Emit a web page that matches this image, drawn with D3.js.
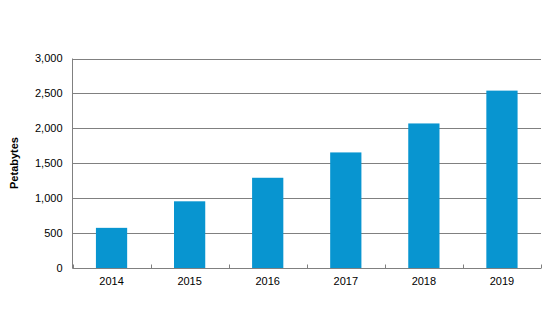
<!DOCTYPE html>
<html>
<head>
<meta charset="utf-8">
<script src="https://cdn.jsdelivr.net/npm/d3@7"></script>
<style>
  html, body { margin: 0; padding: 0; background: #fff; }
  svg { display: block; }
  text { font-family: "Liberation Sans", Arial, sans-serif; fill: #000; }
</style>
</head>
<body>
<svg id="chart" width="550" height="324"></svg>
<script>
const categories = ["2014", "2015", "2016", "2017", "2018", "2019"];
const values = [575, 955, 1292, 1655, 2070, 2540];
const yTicks = [0, 500, 1000, 1500, 2000, 2500, 3000];
const yLabel = "Petabytes";

const svg = d3.select("#chart");
const mLeft = 72.5, mRight = 541, mTop = 58.5, mBottom = 268;

const x = d3.scaleBand().domain(categories).range([mLeft, mRight]).paddingInner(0.6).paddingOuter(0.3);
const xb = d3.scaleBand().domain(categories).range([mLeft, mRight]);
const y = d3.scaleLinear().domain([0, 3000]).range([mBottom, mTop]);

// gridlines
svg.append("g").selectAll("line").data(yTicks.filter(d => d > 0)).join("line")
  .attr("x1", mLeft).attr("x2", mRight)
  .attr("y1", d => Math.round(y(d)) + 0.5).attr("y2", d => Math.round(y(d)) + 0.5)
  .attr("stroke", "#808080").attr("stroke-width", 1);

// bars
svg.append("g").selectAll("rect").data(categories).join("rect")
  .attr("x", (d) => x(d))
  .attr("width", x.bandwidth())
  .attr("y", (d, i) => y(values[i]))
  .attr("height", (d, i) => y(0) - y(values[i]))
  .attr("fill", "#0895d0");

// axes lines
svg.append("line").attr("x1", mLeft).attr("x2", mLeft).attr("y1", y(3000)).attr("y2", mBottom + 0.5)
  .attr("stroke", "#808080");
svg.append("line").attr("x1", mLeft).attr("x2", mRight).attr("y1", mBottom + 0.5).attr("y2", mBottom + 0.5)
  .attr("stroke", "#808080");

// x tick marks between categories
const bounds = categories.map(c => xb(c)).concat([mRight]);
svg.append("g").selectAll("line").data(bounds).join("line")
  .attr("x1", d => Math.round(d) + 0.5).attr("x2", d => Math.round(d) + 0.5)
  .attr("y1", mBottom + 0.5).attr("y2", mBottom - 3.5)
  .attr("stroke", "#808080");

// y tick labels
const fmt = d3.format(",");
svg.append("g").selectAll("text").data(yTicks).join("text")
  .attr("x", 62.5).attr("y", d => y(d)).attr("dy", "0.35em")
  .attr("text-anchor", "end").attr("font-size", 11).text(d => fmt(d));

// x labels
svg.append("g").selectAll("text").data(categories).join("text")
  .attr("x", d => xb(d) + xb.bandwidth() / 2).attr("y", 285)
  .attr("text-anchor", "middle").attr("font-size", 11).text(d => d);

// y axis title
svg.append("text").attr("transform", "translate(18,163) rotate(-90)")
  .attr("text-anchor", "middle").attr("font-size", 11).attr("font-weight", "bold").text(yLabel);
</script>
</body>
</html>
